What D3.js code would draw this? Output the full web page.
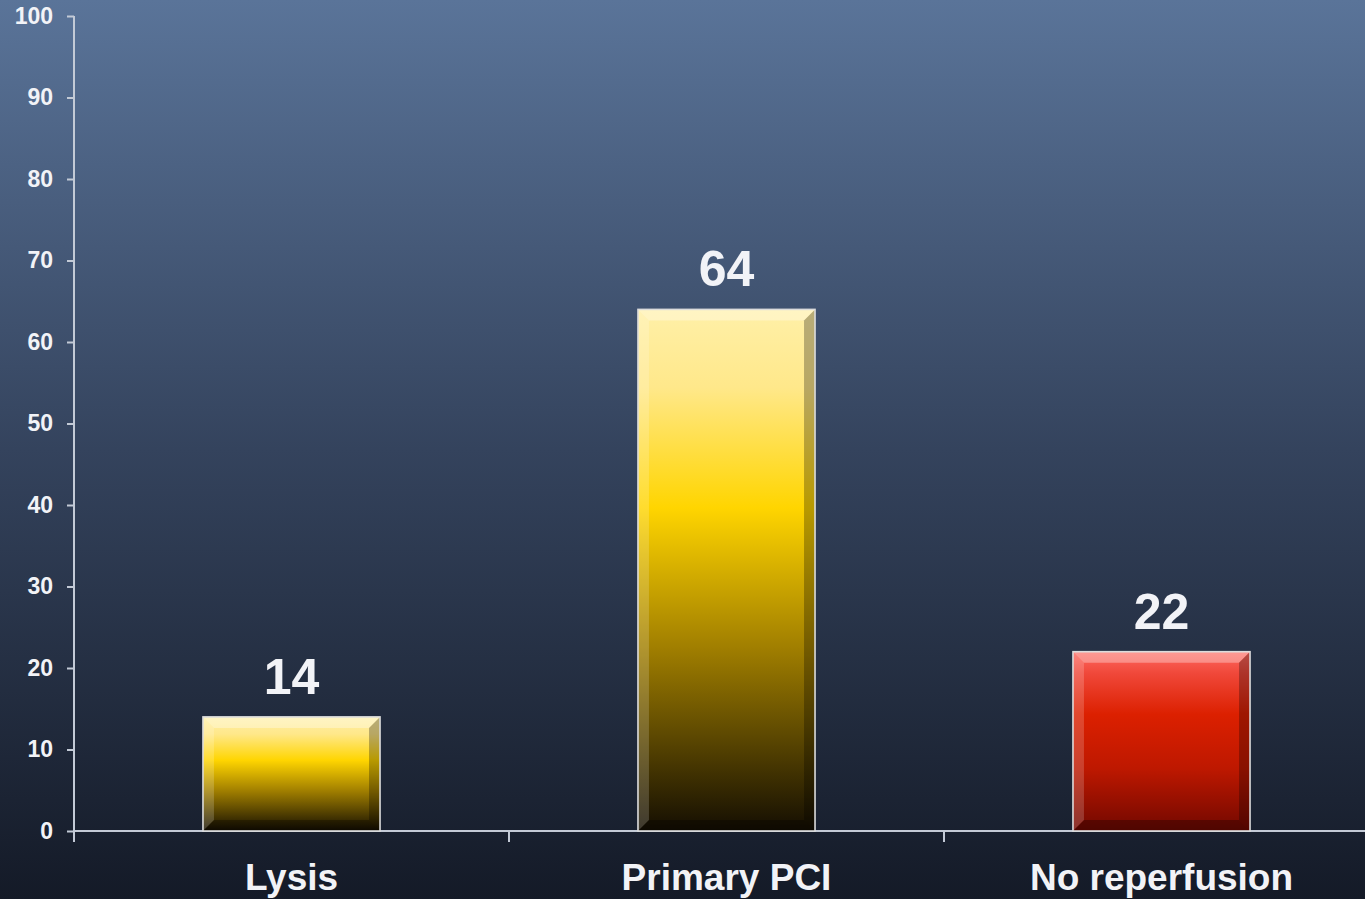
<!DOCTYPE html>
<html>
<head>
<meta charset="utf-8">
<script src="https://cdn.jsdelivr.net/npm/d3@7"></script>
<style>
  html, body { margin: 0; padding: 0; overflow: hidden; }
  body { width: 1365px; height: 899px; }
  text { font-family: "Liberation Sans", Arial, sans-serif; font-weight: bold; fill: #f2f3f7; }
</style>
</head>
<body>
<script>
// chart data
var categories = ["Lysis", "Primary PCI", "No reperfusion"];
var values = [14, 64, 22];
var barKinds = ["gold", "gold", "red"];
var yTicks = [0, 10, 20, 30, 40, 50, 60, 70, 80, 90, 100];

var W = 1365, H = 899;
var svg = d3.select("body").append("svg").attr("width", W).attr("height", H);
var defs = svg.append("defs");

// background
var bg = defs.append("linearGradient").attr("id", "bg")
  .attr("x1", 0).attr("y1", 0).attr("x2", 0).attr("y2", 1);
bg.append("stop").attr("offset", "0%").attr("stop-color", "#5a7499");
bg.append("stop").attr("offset", "50%").attr("stop-color", "#34435d");
bg.append("stop").attr("offset", "100%").attr("stop-color", "#141a27");
svg.append("rect").attr("width", W).attr("height", H).attr("fill", "url(#bg)");

// bar gradients
var gold = defs.append("linearGradient").attr("id", "gold")
  .attr("x1", 0).attr("y1", 0).attr("x2", 0).attr("y2", 1);
gold.append("stop").attr("offset", "0%").attr("stop-color", "#fff0a8");
gold.append("stop").attr("offset", "15%").attr("stop-color", "#ffe88a");
gold.append("stop").attr("offset", "38%").attr("stop-color", "#ffd500");
gold.append("stop").attr("offset", "65%").attr("stop-color", "#a07e00");
gold.append("stop").attr("offset", "100%").attr("stop-color", "#140e02");

var red = defs.append("linearGradient").attr("id", "red")
  .attr("x1", 0).attr("y1", 0).attr("x2", 0).attr("y2", 1);
red.append("stop").attr("offset", "0%").attr("stop-color", "#ff6a62");
red.append("stop").attr("offset", "12%").attr("stop-color", "#f0483a");
red.append("stop").attr("offset", "35%").attr("stop-color", "#dc2000");
red.append("stop").attr("offset", "65%").attr("stop-color", "#be1800");
red.append("stop").attr("offset", "100%").attr("stop-color", "#720800");

var margin = {left: 74, top: 16, bottom: 68};
var y = d3.scaleLinear().domain([0, 100]).range([H - margin.bottom, margin.top]);
var x = d3.scaleBand().domain(categories).range([margin.left, margin.left + 3 * 435])
  .paddingInner(0.593).paddingOuter(0.2965);
var step = x.step();

var axisColor = "#c3cad6";

// y axis
var yAxis = svg.append("g").attr("transform", "translate(" + margin.left + ",0)")
  .call(d3.axisLeft(y).tickValues(yTicks).tickSize(7).tickPadding(14));
yAxis.select(".domain").attr("stroke", axisColor).attr("stroke-width", 2)
  .attr("d", "M0," + y(100) + "V" + (y(0) + 11));
yAxis.selectAll(".tick line").attr("stroke", axisColor).attr("stroke-width", 2);
yAxis.selectAll(".tick text").style("font-size", "23px").attr("fill", "#f2f3f7")
  .style("font-family", "'Liberation Sans', Arial, sans-serif").style("font-weight", "bold");

// x axis line and ticks between categories
svg.append("line").attr("x1", margin.left).attr("x2", W)
  .attr("y1", y(0)).attr("y2", y(0))
  .attr("stroke", axisColor).attr("stroke-width", 2);
svg.selectAll(".xtick").data(categories.slice(1)).enter().append("line")
  .attr("class", "xtick")
  .attr("x1", function(d) { return x(d) - x.paddingInner() * step / 2; })
  .attr("x2", function(d) { return x(d) - x.paddingInner() * step / 2; })
  .attr("y1", y(0)).attr("y2", y(0) + 11)
  .attr("stroke", axisColor).attr("stroke-width", 2);

// bars
var bars = svg.selectAll(".bar").data(values).enter().append("g").attr("class", "bar");
bars.append("rect")
  .attr("x", function(d, i) { return x(categories[i]); })
  .attr("y", function(d) { return y(d); })
  .attr("width", x.bandwidth())
  .attr("height", function(d) { return y(0) - y(d); })
  .attr("fill", function(d, i) { return "url(#" + barKinds[i] + ")"; });

// bevel facets
bars.each(function(d, i) {
  var g = d3.select(this);
  var x0 = x(categories[i]), x1 = x0 + x.bandwidth();
  var y0 = y(d), y1 = y(0);
  var b = Math.min(11, (y1 - y0) / 4);
  var facets = [
    {pts: [[x0, y0], [x1, y0], [x1 - b, y0 + b], [x0 + b, y0 + b]], c: "#ffffff", o: 0.32},
    {pts: [[x0, y0], [x0 + b, y0 + b], [x0 + b, y1 - b], [x0, y1]], c: "#ffffff", o: 0.18},
    {pts: [[x1, y0], [x1, y1], [x1 - b, y1 - b], [x1 - b, y0 + b]], c: "#000000", o: 0.28},
    {pts: [[x0, y1], [x0 + b, y1 - b], [x1 - b, y1 - b], [x1, y1]], c: "#000000", o: 0.3}
  ];
  g.selectAll("polygon").data(facets).enter().append("polygon")
    .attr("points", function(f) { return f.pts.map(function(p) { return p.join(","); }).join(" "); })
    .attr("fill", function(f) { return f.c; })
    .attr("fill-opacity", function(f) { return f.o; });
  g.append("rect").attr("x", x0).attr("y", y0).attr("width", x1 - x0).attr("height", y1 - y0)
    .attr("fill", "none").attr("stroke", "#dcdcdc").attr("stroke-width", 1.6);
});

// value labels
svg.selectAll(".val").data(values).enter().append("text")
  .attr("class", "val")
  .attr("x", function(d, i) { return x(categories[i]) + x.bandwidth() / 2; })
  .attr("y", function(d) { return y(d) - 23; })
  .attr("text-anchor", "middle")
  .style("font-size", "50px")
  .text(function(d) { return d; });

// category labels
svg.selectAll(".cat").data(categories).enter().append("text")
  .attr("class", "cat")
  .attr("x", function(d) { return x(d) + x.bandwidth() / 2; })
  .attr("y", y(0) + 59)
  .attr("text-anchor", "middle")
  .style("font-size", "37px")
  .text(function(d) { return d; });
</script>
</body>
</html>
